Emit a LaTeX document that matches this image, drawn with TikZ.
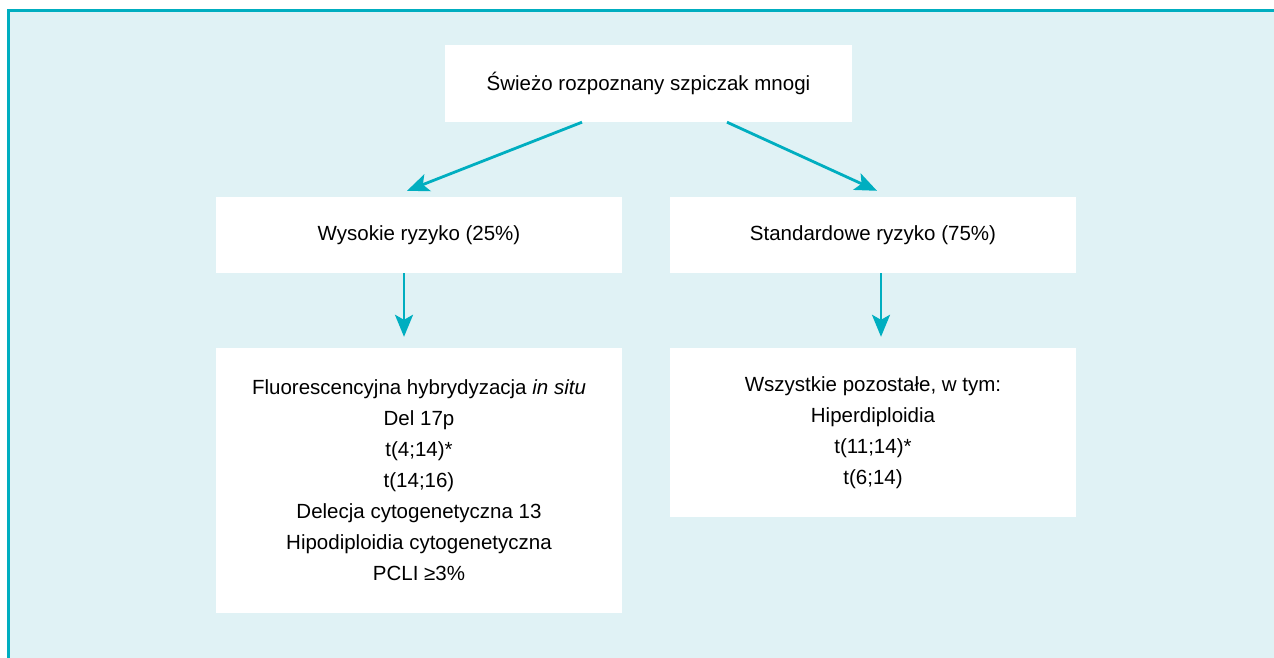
\documentclass[tikz,border=0pt]{standalone}
\usepackage{fontspec}
\setmainfont{Liberation Sans}
\usetikzlibrary{arrows.meta}
\definecolor{chartcyan}{RGB}{0,174,192}
\definecolor{chartbg}{RGB}{224,242,245}
\tikzset{
  chart/.style={
    x=1pt, y=-1pt,
    every node/.style={fill=white, inner sep=0pt, align=center,
        font=\fontsize{20.5}{31}\selectfont},
    box/.style={minimum width=406pt, minimum height=76pt},
    list/.style={minimum width=406pt},
    link/.style={
        draw=chartcyan,
        line width=2.8pt,
        -{Stealth[length=22pt,width=18pt,inset=5pt]},
    },
  }
}

\begin{document}
\begin{tikzpicture}[chart]
    \useasboundingbox (0,0) rectangle (1274,658);
    \fill[chartbg] (8,10) rectangle (1274,658);
    \draw[chartcyan, line width=3pt] (8.5,658) -- (8.5,10.5) -- (1274,10.5);

    \node[box, minimum width=407pt, minimum height=77pt] (start) at (648.5,83.5)
        {Świeżo rozpoznany szpiczak mnogi};
    \node[box] (high) at (419,235) {Wysokie ryzyko (25\%)};
    \node[box] (std) at (873,235) {Standardowe ryzyko (75\%)};
    \node[list, minimum height=265pt] (highlist) at (419,480.5)
        {Fluorescencyjna hybrydyzacja \textit{in situ}\\
         Del 17p\\
         t(4;14)*\\
         t(14;16)\\
         Delecja cytogenetyczna 13\\
         Hipodiploidia cytogenetyczna\\
         PCLI ≥3\%};
    \node[list, minimum height=169pt] (stdlist) at (873,432.5)
        {Wszystkie pozostałe, w tym:\\
         Hiperdiploidia\\
         t(11;14)*\\
         t(6;14)};

    \draw[link] ([xshift=-66.5pt]start.south) -- ([xshift=-12pt,yshift=6pt]high.north);
    \draw[link] ([xshift=78.5pt]start.south) -- ([xshift=4pt,yshift=6pt]std.north);
    \draw[link] ([xshift=-15pt]high.south) -- ([xshift=-15pt,yshift=11pt]highlist.north);
    \draw[link] ([xshift=8pt]std.south) -- ([xshift=8pt,yshift=11pt]stdlist.north);
\end{tikzpicture}
\end{document}
